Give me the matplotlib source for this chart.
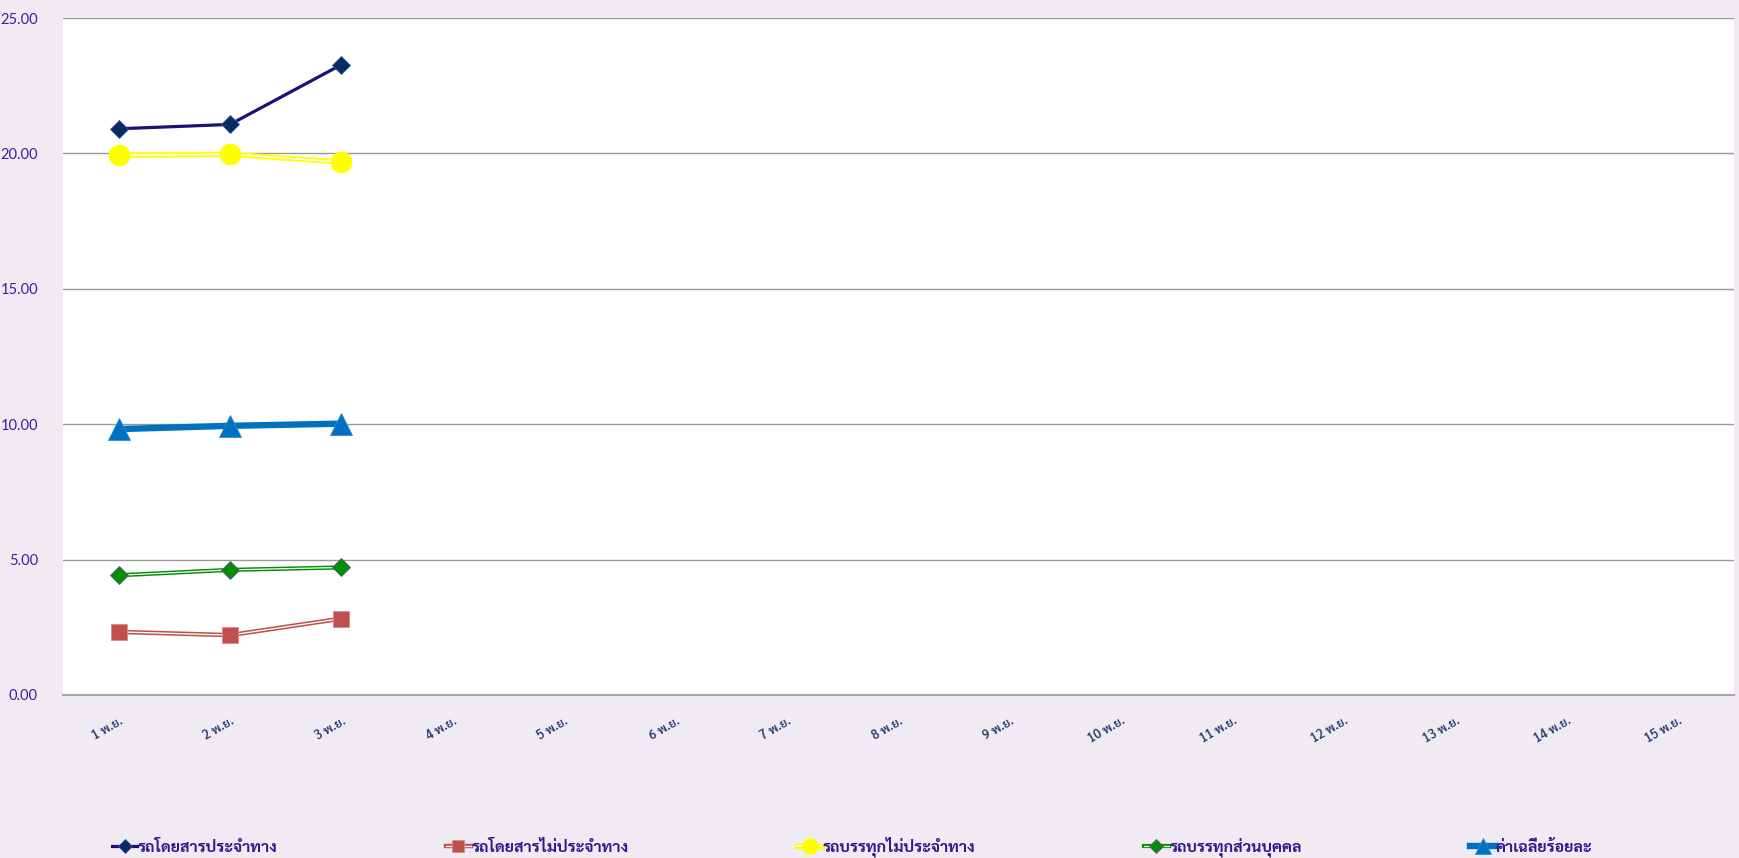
import numpy as np
import matplotlib
matplotlib.use("Agg")
import matplotlib.pyplot as plt
import matplotlib.patheffects as pe

plt.rcParams['font.family'] = ['Sarabun', 'DejaVu Sans']

# วันที่ (แกน x)
days = ['%d พ.ย.' % d for d in range(1, 16)]

# ค่าแต่ละชุด (มีข้อมูลเพียง 3 วันแรก)
bus_route = [20.91, 21.07, 23.28]
bus_nonroute = [2.33, 2.21, 2.82]
truck_nonroute = [19.93, 19.97, 19.68]
truck_private = [4.42, 4.62, 4.71]
average = [9.82, 9.94, 10.02]

names = ['รถโดยสารประจำทาง', 'รถโดยสารไม่ประจำทาง', 'รถบรรทุกไม่ประจำทาง',
         'รถบรรทุกส่วนบุคคล', 'ค่าเฉลี่ยร้อยละ']
yticks = [0, 5, 10, 15, 20, 25]

bg = '#f0ebf3'
fig = plt.figure(figsize=(17.39, 8.58), dpi=100, facecolor=bg)
ax = fig.add_axes([0.0362, 0.19, 0.961, 0.789])
ax.set_facecolor('white')

x = np.arange(len(bus_route))

handles = []

# รถโดยสารประจำทาง - เส้นทึบ
l1, = ax.plot(x, bus_route, color='#1c0f78', lw=2.3, zorder=3)
m1, = ax.plot(x, bus_route, ls='none', marker='D', ms=9, color='#0b2a63',
              mec='#2a5a9a', mew=0.6, zorder=4)
handles.append((l1, m1))

# เส้นคู่ (double line)
def double(vals, col, w, mk, ms, mec, z):
    ln, = ax.plot(x, vals, color='white', lw=w * 0.3, zorder=z,
                  path_effects=[pe.Stroke(linewidth=w, foreground=col), pe.Normal()])
    mm, = ax.plot(x, vals, ls='none', marker=mk, ms=ms, color=col, mec=mec,
                  mew=0.6, zorder=z + 1)
    return (ln, mm)

handles.append(double(bus_nonroute, '#c0504d', 3.2, 's', 11, '#d98a88', 3))
handles.append(double(truck_nonroute, '#ffff00', 3.8, 'o', 15, '#ffff00', 3))
handles.append(double(truck_private, '#009000', 3.0, 'D', 9, '#6a4a8a', 3))

l5, = ax.plot(x, average, color='#0070c0', lw=4.6, zorder=3)
m5, = ax.plot(x, average, ls='none', marker='^', ms=16, color='#0070c0',
              mec='#2a8ad0', mew=0.6, zorder=4)
handles.append((l5, m5))

ax.set_xlim(-0.5, len(days) - 0.5)
ax.set_ylim(0, 25)
ax.set_xticks(np.arange(len(days)))
ax.set_xticklabels(days, rotation=30, ha='right', rotation_mode='anchor',
                   fontsize=9, fontweight='semibold', color='#2b3f6b')
ax.set_yticks(yticks)
ax.set_yticklabels(['%.2f' % v for v in yticks], fontsize=10.5, color='#3522a0',
                   family=['Lato', 'DejaVu Sans'])
ax.tick_params(axis='both', length=0)
ax.tick_params(axis='y', pad=18)
ax.tick_params(axis='x', pad=14)
ax.grid(axis='y', color='#9a9a9a', lw=1)
ax.set_axisbelow(True)
for s in ['top', 'left', 'right']:
    ax.spines[s].set_visible(False)
ax.spines['bottom'].set_color('#a6a6a6')
ax.spines['bottom'].set_linewidth(1.5)

leg = fig.legend(handles, names, loc='lower left', ncol=5, mode='expand',
                 bbox_to_anchor=(0.056, -0.016, 0.868, 0.04), frameon=False,
                 handlelength=1.6, handletextpad=0.0, markerscale=0.75,
                 prop={'family': ['Sarabun', 'DejaVu Sans'], 'weight': 'bold', 'size': 11.5})
for t in leg.get_texts():
    t.set_color('#2e1a8c')

fig.savefig('out.png', dpi=100, facecolor=bg)
